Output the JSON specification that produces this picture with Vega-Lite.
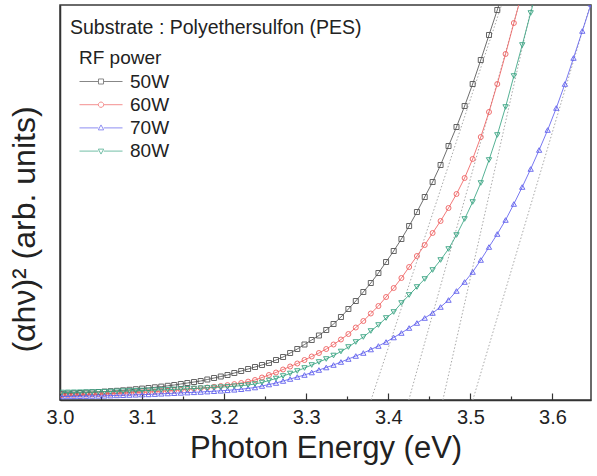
{
"$schema":"https://vega.github.io/schema/vega-lite/v6.json",
"width":531,"height":395,
"autosize":"none",
"padding":{"left":60,"top":5,"right":6,"bottom":76},
"background":"white",
"title":{"text":"Substrate : Polyethersulfon (PES)","anchor":"start","frame":"group","orient":"top","offset":-33,"dx":10,"fontSize":19.5,"fontWeight":"normal","font":"Liberation Sans","color":"#222"},
"datasets":{
"tangents":[
{"t":"L1","x":3.379,"y":0},{"t":"L1","x":3.538,"y":395},
{"t":"L2","x":3.425,"y":0},{"t":"L2","x":3.559,"y":395},
{"t":"L3","x":3.4665,"y":0},{"t":"L3","x":3.575,"y":395},
{"t":"L4","x":3.503,"y":0},{"t":"L4","x":3.646,"y":395}
],
"curves":[
{"s":"50W","x":3.0024,"y":6.1},{"s":"50W","x":3.0097,"y":6.4},{"s":"50W","x":3.0170,"y":6.7},{"s":"50W","x":3.0244,"y":7.0},{"s":"50W","x":3.0318,"y":7.3},{"s":"50W","x":3.0392,"y":7.6},{"s":"50W","x":3.0467,"y":8.0},{"s":"50W","x":3.0542,"y":8.4},{"s":"50W","x":3.0617,"y":8.8},{"s":"50W","x":3.0693,"y":9.2},{"s":"50W","x":3.0769,"y":9.7},{"s":"50W","x":3.0846,"y":10.2},{"s":"50W","x":3.0923,"y":10.8},{"s":"50W","x":3.1000,"y":11.4},{"s":"50W","x":3.1078,"y":12.0},{"s":"50W","x":3.1156,"y":12.7},{"s":"50W","x":3.1234,"y":13.4},{"s":"50W","x":3.1313,"y":14.2},{"s":"50W","x":3.1392,"y":15.0},{"s":"50W","x":3.1472,"y":16.0},{"s":"50W","x":3.1552,"y":17.0},{"s":"50W","x":3.1633,"y":18.0},{"s":"50W","x":3.1714,"y":19.0},{"s":"50W","x":3.1795,"y":20.5},{"s":"50W","x":3.1877,"y":22.0},{"s":"50W","x":3.1959,"y":23.5},{"s":"50W","x":3.2041,"y":25.0},{"s":"50W","x":3.2124,"y":27.0},{"s":"50W","x":3.2208,"y":29.0},{"s":"50W","x":3.2292,"y":31.0},{"s":"50W","x":3.2376,"y":33.0},{"s":"50W","x":3.2461,"y":35.0},{"s":"50W","x":3.2546,"y":37.0},{"s":"50W","x":3.2632,"y":40.0},{"s":"50W","x":3.2718,"y":43.0},{"s":"50W","x":3.2804,"y":47.0},{"s":"50W","x":3.2891,"y":51.0},{"s":"50W","x":3.2979,"y":55.5},{"s":"50W","x":3.3067,"y":60.0},{"s":"50W","x":3.3155,"y":64.5},{"s":"50W","x":3.3244,"y":70.0},{"s":"50W","x":3.3333,"y":76.0},{"s":"50W","x":3.3423,"y":83.0},{"s":"50W","x":3.3514,"y":91.0},{"s":"50W","x":3.3604,"y":99.0},{"s":"50W","x":3.3696,"y":108.0},{"s":"50W","x":3.3787,"y":117.0},{"s":"50W","x":3.3880,"y":127.0},{"s":"50W","x":3.3973,"y":138.0},{"s":"50W","x":3.4066,"y":149.0},{"s":"50W","x":3.4160,"y":161.0},{"s":"50W","x":3.4254,"y":174.0},{"s":"50W","x":3.4349,"y":188.0},{"s":"50W","x":3.4444,"y":203.0},{"s":"50W","x":3.4540,"y":218.0},{"s":"50W","x":3.4637,"y":235.0},{"s":"50W","x":3.4734,"y":254.0},{"s":"50W","x":3.4831,"y":273.0},{"s":"50W","x":3.4930,"y":294.0},{"s":"50W","x":3.5028,"y":316.0},{"s":"50W","x":3.5127,"y":340.0},{"s":"50W","x":3.5227,"y":365.0},{"s":"50W","x":3.5328,"y":390.0},{"s":"50W","x":3.5429,"y":416.0},
{"s":"60W","x":3.0024,"y":5.0},{"s":"60W","x":3.0097,"y":5.1},{"s":"60W","x":3.0170,"y":5.2},{"s":"60W","x":3.0244,"y":5.4},{"s":"60W","x":3.0318,"y":5.5},{"s":"60W","x":3.0392,"y":5.7},{"s":"60W","x":3.0467,"y":5.9},{"s":"60W","x":3.0542,"y":6.1},{"s":"60W","x":3.0617,"y":6.3},{"s":"60W","x":3.0693,"y":6.5},{"s":"60W","x":3.0769,"y":6.8},{"s":"60W","x":3.0846,"y":7.1},{"s":"60W","x":3.0923,"y":7.4},{"s":"60W","x":3.1000,"y":7.7},{"s":"60W","x":3.1078,"y":8.0},{"s":"60W","x":3.1156,"y":8.4},{"s":"60W","x":3.1234,"y":8.8},{"s":"60W","x":3.1313,"y":9.2},{"s":"60W","x":3.1392,"y":9.7},{"s":"60W","x":3.1472,"y":10.2},{"s":"60W","x":3.1552,"y":10.7},{"s":"60W","x":3.1633,"y":11.3},{"s":"60W","x":3.1714,"y":11.9},{"s":"60W","x":3.1795,"y":12.5},{"s":"60W","x":3.1877,"y":13.2},{"s":"60W","x":3.1959,"y":14.0},{"s":"60W","x":3.2041,"y":14.9},{"s":"60W","x":3.2124,"y":15.9},{"s":"60W","x":3.2208,"y":17.0},{"s":"60W","x":3.2292,"y":18.4},{"s":"60W","x":3.2376,"y":20.0},{"s":"60W","x":3.2461,"y":22.5},{"s":"60W","x":3.2546,"y":25.0},{"s":"60W","x":3.2632,"y":27.5},{"s":"60W","x":3.2718,"y":30.5},{"s":"60W","x":3.2804,"y":33.5},{"s":"60W","x":3.2891,"y":36.5},{"s":"60W","x":3.2979,"y":40.0},{"s":"60W","x":3.3067,"y":43.5},{"s":"60W","x":3.3155,"y":47.0},{"s":"60W","x":3.3244,"y":51.0},{"s":"60W","x":3.3333,"y":55.5},{"s":"60W","x":3.3423,"y":60.5},{"s":"60W","x":3.3514,"y":66.0},{"s":"60W","x":3.3604,"y":72.5},{"s":"60W","x":3.3696,"y":79.0},{"s":"60W","x":3.3787,"y":86.5},{"s":"60W","x":3.3880,"y":94.0},{"s":"60W","x":3.3973,"y":103.0},{"s":"60W","x":3.4066,"y":112.0},{"s":"60W","x":3.4160,"y":122.0},{"s":"60W","x":3.4254,"y":133.0},{"s":"60W","x":3.4349,"y":144.0},{"s":"60W","x":3.4444,"y":155.0},{"s":"60W","x":3.4540,"y":167.0},{"s":"60W","x":3.4637,"y":179.0},{"s":"60W","x":3.4734,"y":192.0},{"s":"60W","x":3.4831,"y":206.0},{"s":"60W","x":3.4930,"y":222.0},{"s":"60W","x":3.5028,"y":241.0},{"s":"60W","x":3.5127,"y":263.0},{"s":"60W","x":3.5227,"y":288.0},{"s":"60W","x":3.5328,"y":316.0},{"s":"60W","x":3.5429,"y":346.0},{"s":"60W","x":3.5530,"y":377.0},{"s":"60W","x":3.5632,"y":408.0},
{"s":"70W","x":3.0024,"y":3.5},{"s":"70W","x":3.0097,"y":3.6},{"s":"70W","x":3.0170,"y":3.7},{"s":"70W","x":3.0244,"y":3.8},{"s":"70W","x":3.0318,"y":3.9},{"s":"70W","x":3.0392,"y":4.0},{"s":"70W","x":3.0467,"y":4.1},{"s":"70W","x":3.0542,"y":4.2},{"s":"70W","x":3.0617,"y":4.4},{"s":"70W","x":3.0693,"y":4.6},{"s":"70W","x":3.0769,"y":4.8},{"s":"70W","x":3.0846,"y":5.0},{"s":"70W","x":3.0923,"y":5.2},{"s":"70W","x":3.1000,"y":5.4},{"s":"70W","x":3.1078,"y":5.6},{"s":"70W","x":3.1156,"y":5.9},{"s":"70W","x":3.1234,"y":6.2},{"s":"70W","x":3.1313,"y":6.5},{"s":"70W","x":3.1392,"y":6.8},{"s":"70W","x":3.1472,"y":7.1},{"s":"70W","x":3.1552,"y":7.4},{"s":"70W","x":3.1633,"y":7.7},{"s":"70W","x":3.1714,"y":8.0},{"s":"70W","x":3.1795,"y":8.4},{"s":"70W","x":3.1877,"y":8.8},{"s":"70W","x":3.1959,"y":9.2},{"s":"70W","x":3.2041,"y":9.7},{"s":"70W","x":3.2124,"y":10.2},{"s":"70W","x":3.2208,"y":10.8},{"s":"70W","x":3.2292,"y":11.6},{"s":"70W","x":3.2376,"y":12.5},{"s":"70W","x":3.2461,"y":14.0},{"s":"70W","x":3.2546,"y":15.5},{"s":"70W","x":3.2632,"y":17.0},{"s":"70W","x":3.2718,"y":19.0},{"s":"70W","x":3.2804,"y":21.0},{"s":"70W","x":3.2891,"y":23.0},{"s":"70W","x":3.2979,"y":25.0},{"s":"70W","x":3.3067,"y":27.5},{"s":"70W","x":3.3155,"y":30.0},{"s":"70W","x":3.3244,"y":32.5},{"s":"70W","x":3.3333,"y":35.0},{"s":"70W","x":3.3423,"y":38.0},{"s":"70W","x":3.3514,"y":41.0},{"s":"70W","x":3.3604,"y":44.0},{"s":"70W","x":3.3696,"y":47.0},{"s":"70W","x":3.3787,"y":50.5},{"s":"70W","x":3.3880,"y":54.0},{"s":"70W","x":3.3973,"y":58.0},{"s":"70W","x":3.4066,"y":62.5},{"s":"70W","x":3.4160,"y":67.0},{"s":"70W","x":3.4254,"y":72.0},{"s":"70W","x":3.4349,"y":77.0},{"s":"70W","x":3.4444,"y":82.0},{"s":"70W","x":3.4540,"y":87.0},{"s":"70W","x":3.4637,"y":93.0},{"s":"70W","x":3.4734,"y":100.0},{"s":"70W","x":3.4831,"y":109.0},{"s":"70W","x":3.4930,"y":118.0},{"s":"70W","x":3.5028,"y":128.0},{"s":"70W","x":3.5127,"y":140.0},{"s":"70W","x":3.5227,"y":153.0},{"s":"70W","x":3.5328,"y":166.0},{"s":"70W","x":3.5429,"y":180.0},{"s":"70W","x":3.5530,"y":196.0},{"s":"70W","x":3.5632,"y":213.0},{"s":"70W","x":3.5735,"y":231.0},{"s":"70W","x":3.5838,"y":250.0},{"s":"70W","x":3.5942,"y":270.0},{"s":"70W","x":3.6047,"y":292.0},{"s":"70W","x":3.6152,"y":316.0},{"s":"70W","x":3.6257,"y":342.0},{"s":"70W","x":3.6364,"y":369.0},{"s":"70W","x":3.6471,"y":396.0},
{"s":"80W","x":3.0024,"y":7.5},{"s":"80W","x":3.0097,"y":7.6},{"s":"80W","x":3.0170,"y":7.7},{"s":"80W","x":3.0244,"y":7.8},{"s":"80W","x":3.0318,"y":7.9},{"s":"80W","x":3.0392,"y":8.0},{"s":"80W","x":3.0467,"y":8.1},{"s":"80W","x":3.0542,"y":8.3},{"s":"80W","x":3.0617,"y":8.5},{"s":"80W","x":3.0693,"y":8.7},{"s":"80W","x":3.0769,"y":8.9},{"s":"80W","x":3.0846,"y":9.1},{"s":"80W","x":3.0923,"y":9.3},{"s":"80W","x":3.1000,"y":9.5},{"s":"80W","x":3.1078,"y":9.7},{"s":"80W","x":3.1156,"y":9.9},{"s":"80W","x":3.1234,"y":10.1},{"s":"80W","x":3.1313,"y":10.3},{"s":"80W","x":3.1392,"y":10.6},{"s":"80W","x":3.1472,"y":10.9},{"s":"80W","x":3.1552,"y":11.2},{"s":"80W","x":3.1633,"y":11.5},{"s":"80W","x":3.1714,"y":11.8},{"s":"80W","x":3.1795,"y":12.1},{"s":"80W","x":3.1877,"y":12.5},{"s":"80W","x":3.1959,"y":12.9},{"s":"80W","x":3.2041,"y":13.3},{"s":"80W","x":3.2124,"y":13.8},{"s":"80W","x":3.2208,"y":14.3},{"s":"80W","x":3.2292,"y":15.0},{"s":"80W","x":3.2376,"y":16.0},{"s":"80W","x":3.2461,"y":17.5},{"s":"80W","x":3.2546,"y":19.5},{"s":"80W","x":3.2632,"y":21.5},{"s":"80W","x":3.2718,"y":24.0},{"s":"80W","x":3.2804,"y":26.5},{"s":"80W","x":3.2891,"y":29.0},{"s":"80W","x":3.2979,"y":32.0},{"s":"80W","x":3.3067,"y":35.0},{"s":"80W","x":3.3155,"y":38.0},{"s":"80W","x":3.3244,"y":41.0},{"s":"80W","x":3.3333,"y":44.5},{"s":"80W","x":3.3423,"y":48.5},{"s":"80W","x":3.3514,"y":53.0},{"s":"80W","x":3.3604,"y":58.0},{"s":"80W","x":3.3696,"y":63.0},{"s":"80W","x":3.3787,"y":69.0},{"s":"80W","x":3.3880,"y":75.0},{"s":"80W","x":3.3973,"y":82.0},{"s":"80W","x":3.4066,"y":88.0},{"s":"80W","x":3.4160,"y":97.0},{"s":"80W","x":3.4254,"y":105.0},{"s":"80W","x":3.4349,"y":113.0},{"s":"80W","x":3.4444,"y":121.0},{"s":"80W","x":3.4540,"y":130.0},{"s":"80W","x":3.4637,"y":140.0},{"s":"80W","x":3.4734,"y":151.0},{"s":"80W","x":3.4831,"y":165.0},{"s":"80W","x":3.4930,"y":181.0},{"s":"80W","x":3.5028,"y":198.0},{"s":"80W","x":3.5127,"y":217.0},{"s":"80W","x":3.5227,"y":240.0},{"s":"80W","x":3.5328,"y":265.0},{"s":"80W","x":3.5429,"y":293.0},{"s":"80W","x":3.5530,"y":324.0},{"s":"80W","x":3.5632,"y":355.0},{"s":"80W","x":3.5735,"y":387.0},{"s":"80W","x":3.5838,"y":419.0}
]},
"encoding":{
"x":{"field":"x","type":"quantitative","title":"Photon Energy (eV)","scale":{"domain":[3.0,3.647],"nice":false,"zero":false},
 "axis":{"values":[3.0,3.05,3.1,3.15,3.2,3.25,3.3,3.35,3.4,3.45,3.5,3.55,3.6],
  "labelExpr":"round(datum.value*100) % 10 == 0 ? format(datum.value, '.1f') : ''",
  "tickSize":{"condition":{"test":"round(datum.value*100) % 10 == 0","value":-7},"value":-4},
  "tickColor":"#333","tickWidth":1.2,"labelPadding":14,"labelFontSize":20,"titleFontSize":31,"titlePadding":6,
  "domainColor":"#333","domainWidth":1.6,"grid":false,"labelFlush":false}},
"y":{"field":"y","type":"quantitative","title":"(αhν)² (arb. units)","scale":{"domain":[0,395],"nice":false},
 "axis":{"labels":false,"ticks":false,"grid":false,"domainColor":"#333","domainWidth":1.5,"titleFontSize":32,"titlePadding":19,"titleY":224}}
},
"layer":[
{"data":{"name":"tangents"},"mark":{"type":"line","clip":true,"color":"#a8a8a8","strokeWidth":1,"strokeDash":[1.5,2]},
 "encoding":{"detail":{"field":"t","type":"nominal"}}},
{"data":{"name":"curves"},"transform":[{"filter":"datum.s === '50W'"}],"layer":[
 {"mark":{"type":"line","clip":true,"strokeWidth":1,"opacity":0.85,"color":"#555555"}},
 {"mark":{"type":"point","shape":"square","clip":true,"filled":false,"strokeWidth":1,"size":25,"opacity":0.9,"color":"#555555"}}]},
{"data":{"name":"curves"},"transform":[{"filter":"datum.s === '60W'"}],"layer":[
 {"mark":{"type":"line","clip":true,"strokeWidth":1,"opacity":0.85,"color":"#f06262"}},
 {"mark":{"type":"point","shape":"circle","clip":true,"filled":false,"strokeWidth":1,"size":25,"opacity":0.9,"color":"#f06262"}}]},
{"data":{"name":"curves"},"transform":[{"filter":"datum.s === '70W'"}],"layer":[
 {"mark":{"type":"line","clip":true,"strokeWidth":1,"opacity":0.85,"color":"#6060ee"}},
 {"mark":{"type":"point","shape":"triangle-up","clip":true,"filled":false,"strokeWidth":1,"size":28,"opacity":0.9,"color":"#6060ee"}}]},
{"data":{"name":"curves"},"transform":[{"filter":"datum.s === '80W'"}],"layer":[
 {"mark":{"type":"line","clip":true,"strokeWidth":1,"opacity":0.85,"color":"#38a482"}},
 {"mark":{"type":"point","shape":"triangle-down","clip":true,"filled":false,"strokeWidth":1,"size":28,"opacity":0.9,"color":"#38a482"}}]},
{"data":{"name":"curves"},"transform":[{"filter":"false"}],"mark":{"type":"point","filled":false,"strokeWidth":1,"size":324},
 "encoding":{
  "color":{"field":"s","type":"nominal","title":"RF power","scale":{"domain":["50W","60W","70W","80W"],"range":["#555555","#f06262","#6060ee","#38a482"]},
   "legend":{"orient":"none","legendX":19,"legendY":44,"title":"RF power","padding":0,"titleFontSize":19,"titleFontWeight":"normal","titleFont":"Liberation Sans","titleColor":"#222","titlePadding":4,
    "labelFontSize":19,"labelFont":"Liberation Sans","labelColor":"#222","symbolSize":324,"labelOffset":32,"rowPadding":3.2,"symbolStrokeWidth":1}},
  "shape":{"field":"s","type":"nominal","title":"RF power","scale":{"domain":["50W","60W","70W","80W"],"range":[
    "M-1,0H1.11M1.67,0H3.78M1.11,-0.28H1.67V0.28H1.11Z",
    "M-1,0H1.09M1.69,0H3.78M1.69,0L1.65,0.15L1.54,0.26L1.39,0.3L1.24,0.26L1.13,0.15L1.09,0L1.13,-0.15L1.24,-0.26L1.39,-0.3L1.54,-0.26L1.65,-0.15Z",
    "M-1,0H1.09M1.69,0H3.78M1.39,-0.33L1.69,0.22L1.09,0.22Z",
    "M-1,0H1.09M1.69,0H3.78M1.39,0.33L1.69,-0.22L1.09,-0.22Z"]},
   "legend":{"orient":"none","legendX":19,"legendY":44,"title":"RF power","padding":0,"titleFontSize":19,"titleFontWeight":"normal","titleFont":"Liberation Sans","titleColor":"#222","titlePadding":4,
    "labelFontSize":19,"labelFont":"Liberation Sans","labelColor":"#222","symbolSize":324,"labelOffset":32,"rowPadding":3.2,"symbolStrokeWidth":1}}
 }}
],
"config":{"view":{"stroke":"#3a3a3a","strokeWidth":1.5},"font":"Liberation Sans",
 "axis":{"labelFont":"Liberation Sans","titleFont":"Liberation Sans","titleFontWeight":"normal","labelColor":"#222","titleColor":"#222"}}
}
